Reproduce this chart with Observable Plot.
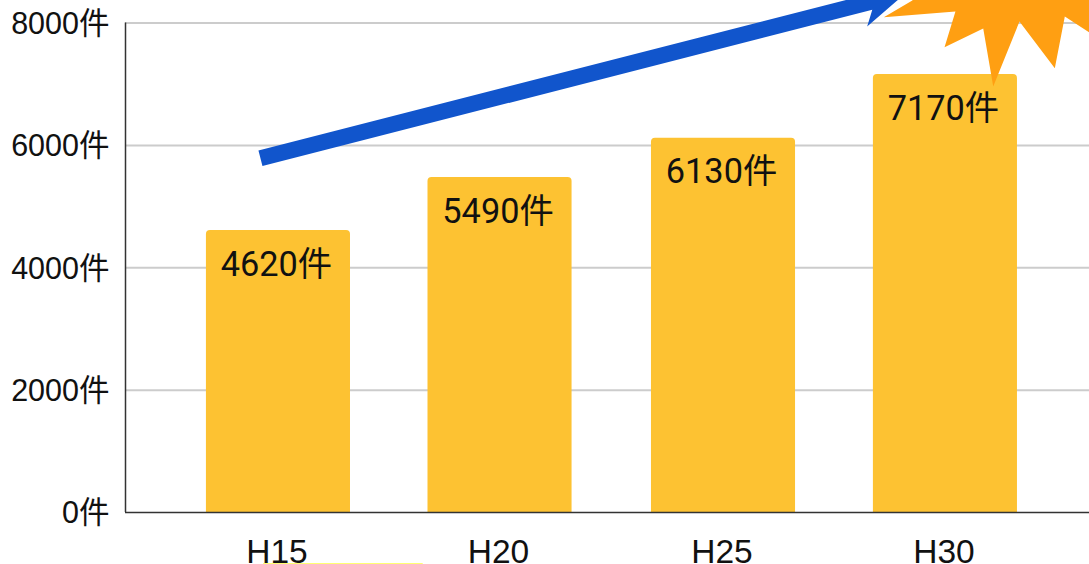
<!DOCTYPE html>
<html><head><meta charset="utf-8">
<script src="https://cdn.jsdelivr.net/npm/d3@7"></script>
<script src="https://cdn.jsdelivr.net/npm/@observablehq/plot@0.6"></script>
<style>html,body{margin:0;padding:0;background:#fff;overflow:hidden}svg{display:block}</style>
</head><body><div id="chart"></div>
<script>
const categories = ["H15","H20","H25","H30"];
const positions = [0,0.9966,2.0018,3];
const values = [4620,5490,6130,7170];
const yTicks = [0,2000,4000,6000,8000];
const barHalf = 0.324;
// annotation outlines, in the chart's own units (category position, count)
const arrowX = [-0.090,-0.072,2.671,2.648,2.783,2.910,2.573,2.596];
const arrowY = [5918,5662,8216,7943,8367,8694,9020,8416];
const starX = [2.723,3.045,2.996,3.170,3.215,3.333,3.492,3.537,3.648,3.698,3.698,2.910,2.851];
const starY = [8095,8188,7605,7910,6963,8024,7262,8106,7845,7747,8694,8694,8367];
const stripX = [-0.067,0.647];
const stripY = [-835,-835];

const bars = categories.map((c,i)=>({c,p:positions[i],v:values[i]}));
const arrow = arrowX.map((x,i)=>({x,y:arrowY[i]}));
const star = starX.map((x,i)=>({x,y:starY[i]}));
const strip = stripX.map((x,i)=>({x,y:stripY[i]}));
const font = "Roboto, 'Noto Sans CJK JP', sans-serif";
const tickFont = "'Liberation Sans', 'Noto Sans CJK JP', sans-serif";

const chart = Plot.plot({
  width:1089, height:564,
  marginLeft:125, marginRight:0, marginTop:22.5, marginBottom:52,
  style:{background:"#fff", overflow:"hidden"},
  x:{domain:[-0.688,3.648], axis:null},
  y:{domain:[0,8000], axis:null},
  marks:[
    Plot.ruleY(yTicks.slice(1),{stroke:"#cccccc",strokeWidth:2,strokeOpacity:1}),
    Plot.rectY(bars,{x1:d=>d.p-barHalf,x2:d=>d.p+barHalf,y1:0,y2:"v",fill:"#fdc232",ry2:4,insetTop:0.8}),
    Plot.ruleX([-0.688],{stroke:"#333",strokeWidth:1.5}),
    Plot.ruleY([0],{stroke:"#333",strokeWidth:1.5}),
    Plot.text(yTicks,{x:-0.688,y:d=>d,text:d=>d+"件",dx:-16,dy:1,textAnchor:"end",fontSize:30.5,fontFamily:tickFont,fill:"#111"}),
    Plot.text(bars,{x:"p",y:0,text:"c",dy:39.5,dx:-1.5,fontSize:33.5,fontFamily:tickFont,fill:"#111"}),
    Plot.text(bars,{x:"p",y:"v",text:d=>d.v+"件",dy:35,dx:-2,fontSize:34.3,fontFamily:font,fill:"#111"}),
    Plot.line(arrow,{x:"x",y:"y",fill:"#1155cc",stroke:"none"}),
    Plot.line(star,{x:"x",y:"y",fill:"#ff9f12",stroke:"none"}),
    Plot.line(strip,{x:"x",y:"y",stroke:"#ffff66",strokeWidth:1})
  ]
});
document.getElementById("chart").append(chart);
</script></body></html>
